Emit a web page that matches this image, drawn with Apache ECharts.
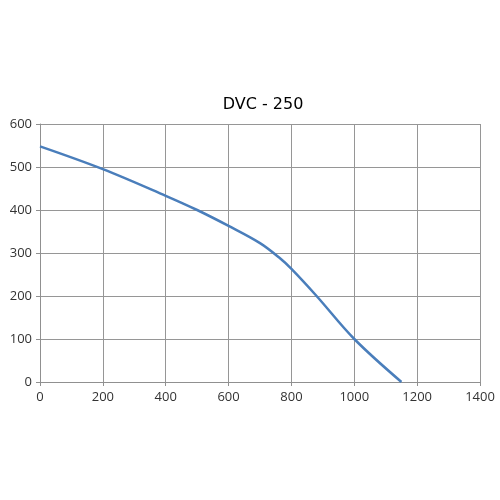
<!DOCTYPE html>
<html><head><meta charset="utf-8">
<script src="https://cdn.jsdelivr.net/npm/echarts@6/dist/echarts.min.js"></script>
<style>html,body{margin:0;padding:0;background:#fff}#c{width:500px;height:500px}</style>
</head><body><div id="c"></div>
<script>
const title = "DVC - 250";
const flow = [0, 200, 400, 500, 600, 700, 760, 800, 880, 1000, 1150];
const pressure = [548, 495, 433, 400, 363, 323, 290, 263, 200, 100, 0];
const xTicks = [0, 200, 400, 600, 800, 1000, 1200, 1400];
const yTicks = [0, 100, 200, 300, 400, 500, 600];

const chart = echarts.init(document.getElementById('c'));
const font = '"Open Sans", "DejaVu Sans", sans-serif';
chart.setOption({
  animation: false,
  title: { text: title, left: 258, textAlign: 'center', top: 92,
    textStyle: { fontFamily: '"DejaVu Sans", sans-serif', fontSize: 16, fontWeight: 'normal', color: '#000' } },
  grid: { left: 40, right: 20, top: 124, bottom: 118 },
  xAxis: { type: 'value', min: xTicks[0], max: xTicks[xTicks.length-1], interval: 200,
    axisLine: { show: true, lineStyle: { color: '#909090' } },
    axisTick: { show: true, length: 4, lineStyle: { color: '#909090' } },
    axisLabel: { fontFamily: font, fontSize: 13, color: '#333', margin: 9, formatter: v => String(v) },
    splitLine: { show: true, lineStyle: { color: '#969696', width: 1 } } },
  yAxis: { type: 'value', min: yTicks[0], max: yTicks[yTicks.length-1], interval: 100,
    axisLine: { show: true, lineStyle: { color: '#909090' } },
    axisTick: { show: true, length: 4, lineStyle: { color: '#909090' } },
    axisLabel: { fontFamily: font, fontSize: 13, color: '#333', margin: 8, formatter: v => String(v) },
    splitLine: { show: true, lineStyle: { color: '#969696', width: 1 } } },
  series: [{ type: 'line', data: flow.map((x, i) => [x, pressure[i]]), smooth: 0.35,
    showSymbol: false, lineStyle: { color: '#4a7ebb', width: 2.5 } }]
});
</script></body></html>
